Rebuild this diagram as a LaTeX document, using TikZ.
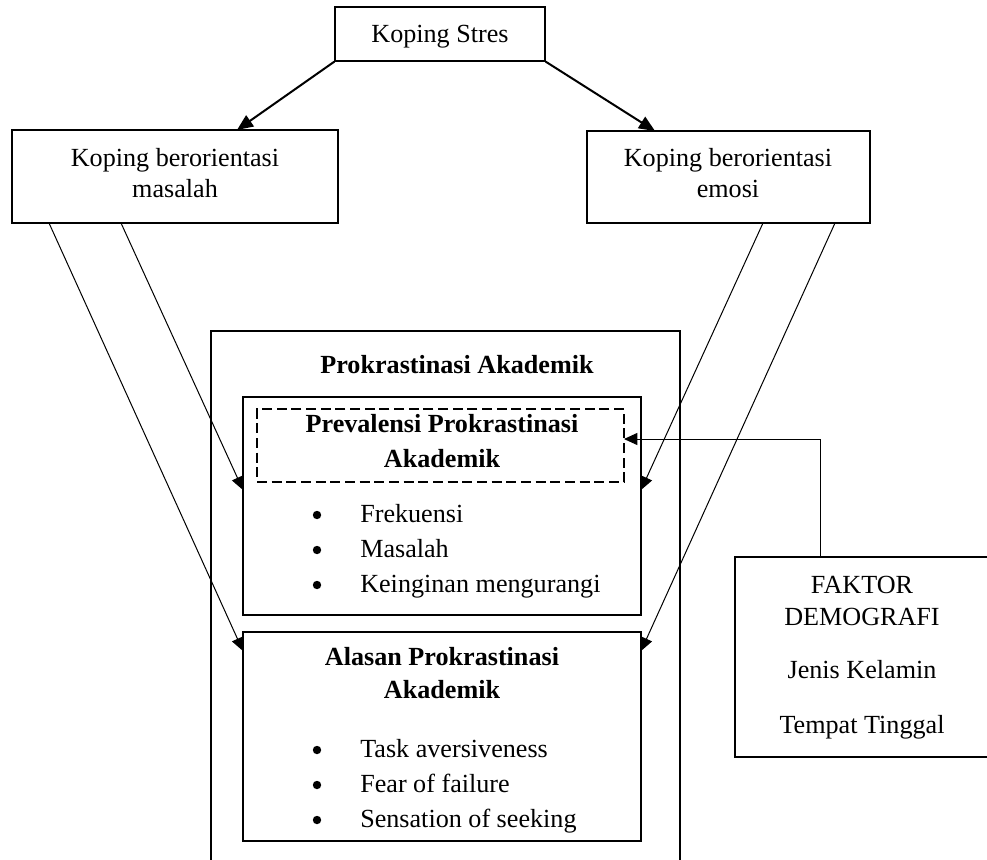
\documentclass[tikz,border=0pt]{standalone}
\usepackage{fontspec}
\setmainfont{Liberation Serif}
\usetikzlibrary{arrows.meta,fit}
\begin{document}
\begin{tikzpicture}[x=0.75pt,y=-0.75pt,
  every node/.style={font=\fontsize{19.6}{24}\selectfont},
  box/.style={draw,line width=0.9pt,inner sep=0pt,fit={#1}},
  lbl/.style={anchor=base,inner sep=0pt},
  lbll/.style={anchor=base west,inner sep=0pt},
  dot/.style={circle,fill=black,inner sep=0pt,minimum size=6.3pt},
  bigarrow/.style={line width=1.5pt,-{Triangle[length=12pt,width=10pt]}},
  thinarrow/.style={line width=0.75pt,-{Triangle[length=10pt,width=9pt]}},
  dashbox/.style={draw,line width=1.4pt,dash pattern=on 7.5pt off 3.5pt,inner sep=0pt,fit={#1}}]
\useasboundingbox (0,0) rectangle (987,859);
\clip (0,0) rectangle (987,859);
\fill[white] (0,0) rectangle (987,859);

% boxes
\node[box={(335,7) (545,61)}] (ks) {};
\node[box={(12,130) (338,223)}] (lb) {};
\node[box={(587,131) (870,223)}] (rb) {};
\node[box={(211,331) (680,880)}] (outer) {};
\node[box={(243,397) (641,615)}] (prev) {};
\node[dashbox={(257,409) (624,482)}] (dash) {};
\node[box={(243,632) (641,841)}] (alas) {};
\node[box={(735,557) (992,757)}] (fak) {};

% texts
\node[lbl] (t1) at (440,43) {Koping Stres};
\node[lbl] (t2) at (175,167) {Koping berorientasi};
\node[lbl] (t3) at (175,198) {masalah};
\node[lbl] (t4) at (728,167) {Koping berorientasi};
\node[lbl] (t5) at (728,198) {emosi};
\node[lbl,font=\fontsize{19.6}{24}\selectfont\bfseries] (t6) at (457,373) {Prokrastinasi Akademik};
\node[lbl,font=\fontsize{19.6}{24}\selectfont\bfseries] (t7) at (442,432) {Prevalensi Prokrastinasi};
\node[lbl,font=\fontsize{19.6}{24}\selectfont\bfseries] (t8) at (442,467) {Akademik};
\node[dot] (b1) at (317,515) {};
\node[lbll] (t9) at (360,522) {Frekuensi};
\node[dot] (b2) at (317,550) {};
\node[lbll] (t10) at (360,557) {Masalah};
\node[dot] (b3) at (317,585) {};
\node[lbll] (t11) at (360,592) {Keinginan mengurangi};
\node[lbl,font=\fontsize{19.6}{24}\selectfont\bfseries] (t12) at (442,665) {Alasan Prokrastinasi};
\node[lbl,font=\fontsize{19.6}{24}\selectfont\bfseries] (t13) at (442,698) {Akademik};
\node[dot] (b4) at (317,750) {};
\node[lbll] (t14) at (360,757) {Task aversiveness};
\node[dot] (b5) at (317,785) {};
\node[lbll] (t15) at (360,792) {Fear of failure};
\node[dot] (b6) at (317,820) {};
\node[lbll] (t16) at (360,827) {Sensation of seeking};
\node[lbl] (t17) at (862,593) {FAKTOR};
\node[lbl] (t18) at (862,625) {DEMOGRAFI};
\node[lbl] (t19) at (862,678) {Jenis Kelamin};
\node[lbl] (t20) at (862,733) {Tempat Tinggal};

% connector end points
\coordinate (lbA) at (49,223);
\coordinate (lbB) at (121,223);
\coordinate (rbA) at (763,223);
\coordinate (rbB) at (835,223);
\coordinate (prevL) at (243,490);
\coordinate (prevR) at (641,490);
\coordinate (alasL) at (243,651);
\coordinate (alasR) at (641,651);
\coordinate (lbT) at (237,130);
\coordinate (rbT) at (655,131);
\coordinate (fakT) at (820,557);
\coordinate (dashR) at (624,439);

% connectors
\draw[bigarrow] (ks.south west) -- (lbT);
\draw[bigarrow] (ks.south east) -- (rbT);
\draw[thinarrow] (lbB) -- (prevL);
\draw[thinarrow] (lbA) -- (alasL);
\draw[thinarrow] (rbA) -- (prevR);
\draw[thinarrow] (rbB) -- (alasR);
\draw[thinarrow] (fakT) |- (dashR);
\end{tikzpicture}
\end{document}
